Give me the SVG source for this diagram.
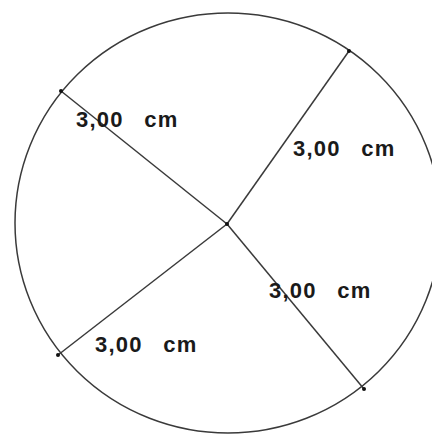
<svg xmlns="http://www.w3.org/2000/svg" width="432" height="436" viewBox="0 0 432 436">
<style>
.ln{stroke:#3a3a3a;stroke-width:1.5;fill:none}
.pt{fill:#111}
.lb{font-family:"Liberation Sans",Arial,sans-serif;font-weight:bold;font-size:22px;letter-spacing:1.2px;word-spacing:3px;fill:#1a1a1a;white-space:pre}
</style>
<rect width="432" height="436" fill="#fff"/>
<g id="circle">
<ellipse class="ln" cx="228" cy="223" rx="213" ry="210"/>
</g>
<g id="connectors">
<line class="ln" x1="227" y1="224" x2="61" y2="91"/>
<line class="ln" x1="227" y1="224" x2="349" y2="51"/>
<line class="ln" x1="227" y1="224" x2="58" y2="355"/>
<line class="ln" x1="227" y1="224" x2="364" y2="389"/>
</g>
<g id="points">
<circle class="pt" cx="227" cy="224" r="2"/>
<circle class="pt" cx="61" cy="91" r="2"/>
<circle class="pt" cx="349" cy="51" r="2"/>
<circle class="pt" cx="58" cy="355" r="2"/>
<circle class="pt" cx="364" cy="389" r="2"/>
</g>
<g id="label1"><text class="lb" x="76" y="127">3,00  cm</text></g>
<g id="label2"><text class="lb" x="293" y="156">3,00  cm</text></g>
<g id="label3"><text class="lb" x="269" y="298">3,00  cm</text></g>
<g id="label4"><text class="lb" x="95" y="352">3,00  cm</text></g>
</svg>
